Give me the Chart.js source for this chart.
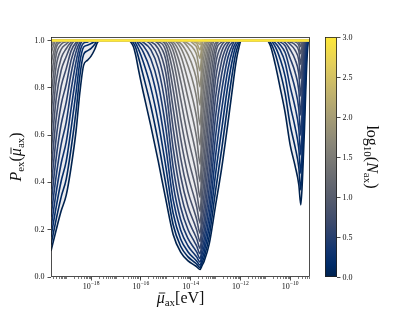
<!DOCTYPE html>
<html>
<head>
<meta charset="utf-8">
<script src="https://cdn.jsdelivr.net/npm/chart.js@4.4.1/dist/chart.umd.min.js"></script>
<style>
  html, body { margin: 0; padding: 0; background: #fff; }
  canvas { display: block; }
</style>
</head>
<body>
<canvas id="chart" width="415" height="311"></canvas>
<script>
// log10(mu / eV) sample points, three regions where the curves leave P = 1
const muLeft = [-19.61, -19.4, -19.2, -19.0, -18.8, -18.6, -18.45, -18.3, -18.15, -18.0, -17.85, -17.75, -17.65];
const muMid = [-16.5, -16.4, -16.3, -16.2, -16.1, -15.9, -15.6, -15.3, -15.0, -14.7, -14.4, -14.1, -13.85,
               -13.75, -13.62, -13.54, -13.45, -13.25, -13.0, -12.75, -12.5, -12.3, -12.2, -12.1, -11.95];
const muRight = [-10.95, -10.8, -10.6, -10.4, -10.2, -10.0, -9.8, -9.65, -9.57, -9.5, -9.42, -9.35, -9.3, -9.25, -9.2];
const muEdges = [-19.61, -9.2];

// log10(N_ax) of every curve
const logN = [0, 0.1, 0.2, 0.3, 0.4, 0.5, 0.6, 0.7, 0.8, 0.9, 1.0, 1.1, 1.2, 1.3, 1.4, 1.5,
              1.6, 1.7, 1.8, 1.9, 2.0, 2.1, 2.2, 2.3, 2.4, 2.5, 2.6, 2.7, 2.8, 2.9, 3.0];

// P_ex on muLeft, one row per curve
const pLeft = [
  [0.110, 0.200, 0.280, 0.345, 0.465, 0.620, 0.780, 0.895, 0.916, 0.934, 0.963, 0.990, 1],
  [0.136, 0.245, 0.339, 0.413, 0.545, 0.704, 0.851, 0.941, 0.956, 0.967, 0.984, 1, 1],
  [0.169, 0.298, 0.406, 0.489, 0.629, 0.784, 0.909, 0.972, 0.980, 0.987, 0.995, 1, 1],
  [0.207, 0.359, 0.481, 0.570, 0.713, 0.855, 0.951, 0.989, 0.993, 1, 1, 1, 1],
  [0.254, 0.429, 0.562, 0.654, 0.792, 0.912, 0.978, 1, 1, 1, 1, 1, 1],
  [0.308, 0.506, 0.646, 0.738, 0.862, 0.953, 0.992, 1, 1, 1, 1, 1, 1],
  [0.371, 0.589, 0.730, 0.814, 0.917, 0.979, 1, 1, 1, 1, 1, 1, 1],
  [0.442, 0.673, 0.807, 0.880, 0.956, 0.992, 1, 1, 1, 1, 1, 1, 1],
  [0.521, 0.755, 0.874, 0.931, 0.981, 1, 1, 1, 1, 1, 1, 1, 1],
  [0.604, 0.830, 0.926, 0.965, 0.993, 1, 1, 1, 1, 1, 1, 1, 1],
  [0.688, 0.893, 0.963, 0.985, 1, 1, 1, 1, 1, 1, 1, 1, 1],
  [0.769, 0.940, 0.984, 0.995, 1, 1, 1, 1, 1, 1, 1, 1, 1],
  [0.842, 0.971, 0.995, 1, 1, 1, 1, 1, 1, 1, 1, 1, 1],
  [0.902, 0.988, 1, 1, 1, 1, 1, 1, 1, 1, 1, 1, 1],
  [0.946, 1, 1, 1, 1, 1, 1, 1, 1, 1, 1, 1, 1],
  [0.975, 1, 1, 1, 1, 1, 1, 1, 1, 1, 1, 1, 1],
  [0.990, 1, 1, 1, 1, 1, 1, 1, 1, 1, 1, 1, 1],
  [1, 1, 1, 1, 1, 1, 1, 1, 1, 1, 1, 1, 1],
  [1, 1, 1, 1, 1, 1, 1, 1, 1, 1, 1, 1, 1],
  [1, 1, 1, 1, 1, 1, 1, 1, 1, 1, 1, 1, 1],
  [1, 1, 1, 1, 1, 1, 1, 1, 1, 1, 1, 1, 1],
  [1, 1, 1, 1, 1, 1, 1, 1, 1, 1, 1, 1, 1],
  [1, 1, 1, 1, 1, 1, 1, 1, 1, 1, 1, 1, 1]
];

// P_ex on muMid
const pMid = [
  [1, 0.993, 0.975, 0.935, 0.880, 0.780, 0.640, 0.490, 0.330, 0.180, 0.105, 0.068, 0.050, 0.043, 0.032, 0.048, 0.068, 0.140, 0.300, 0.460, 0.650, 0.810, 0.890, 0.950, 1],
  [1, 1, 0.990, 0.968, 0.931, 0.851, 0.724, 0.571, 0.396, 0.221, 0.130, 0.085, 0.063, 0.054, 0.040, 0.060, 0.085, 0.173, 0.362, 0.540, 0.733, 0.876, 0.938, 0.977, 1],
  [1, 1, 1, 0.987, 0.965, 0.909, 0.802, 0.656, 0.470, 0.269, 0.161, 0.106, 0.078, 0.067, 0.050, 0.075, 0.106, 0.213, 0.432, 0.623, 0.811, 0.928, 0.970, 0.991, 1],
  [1, 1, 1, 1, 0.985, 0.951, 0.870, 0.739, 0.550, 0.326, 0.199, 0.131, 0.097, 0.084, 0.063, 0.094, 0.131, 0.260, 0.509, 0.708, 0.877, 0.964, 0.988, 1, 1],
  [1, 1, 1, 1, 0.995, 0.978, 0.923, 0.816, 0.634, 0.392, 0.243, 0.162, 0.121, 0.105, 0.078, 0.116, 0.162, 0.315, 0.592, 0.787, 0.928, 0.985, 1, 1, 1],
  [1, 1, 1, 1, 1, 0.992, 0.961, 0.881, 0.718, 0.465, 0.296, 0.200, 0.150, 0.130, 0.098, 0.144, 0.200, 0.379, 0.676, 0.858, 0.964, 0.995, 1, 1, 1],
  [1, 1, 1, 1, 1, 1, 0.983, 0.931, 0.797, 0.545, 0.357, 0.244, 0.185, 0.161, 0.121, 0.178, 0.244, 0.451, 0.758, 0.914, 0.985, 1, 1, 1, 1],
  [1, 1, 1, 1, 1, 1, 0.994, 0.966, 0.865, 0.629, 0.427, 0.297, 0.227, 0.198, 0.150, 0.219, 0.297, 0.530, 0.833, 0.954, 0.995, 1, 1, 1, 1],
  [1, 1, 1, 1, 1, 1, 1, 0.986, 0.920, 0.713, 0.504, 0.359, 0.277, 0.242, 0.185, 0.267, 0.359, 0.614, 0.895, 0.980, 1, 1, 1, 1, 1],
  [1, 1, 1, 1, 1, 1, 1, 0.995, 0.958, 0.793, 0.586, 0.428, 0.335, 0.295, 0.228, 0.323, 0.428, 0.698, 0.941, 0.993, 1, 1, 1, 1, 1],
  [1, 1, 1, 1, 1, 1, 1, 1, 0.982, 0.862, 0.670, 0.505, 0.401, 0.356, 0.277, 0.389, 0.505, 0.779, 0.972, 1, 1, 1, 1, 1, 1],
  [1, 1, 1, 1, 1, 1, 1, 1, 0.994, 0.917, 0.753, 0.588, 0.476, 0.425, 0.336, 0.462, 0.588, 0.850, 0.989, 1, 1, 1, 1, 1, 1],
  [1, 1, 1, 1, 1, 1, 1, 1, 1, 0.957, 0.828, 0.672, 0.556, 0.502, 0.403, 0.541, 0.672, 0.908, 1, 1, 1, 1, 1, 1, 1],
  [1, 1, 1, 1, 1, 1, 1, 1, 1, 0.981, 0.891, 0.755, 0.641, 0.584, 0.477, 0.625, 0.755, 0.951, 1, 1, 1, 1, 1, 1, 1],
  [1, 1, 1, 1, 1, 1, 1, 1, 1, 0.993, 0.938, 0.829, 0.724, 0.669, 0.558, 0.709, 0.829, 0.977, 1, 1, 1, 1, 1, 1, 1],
  [1, 1, 1, 1, 1, 1, 1, 1, 1, 1, 0.970, 0.892, 0.803, 0.751, 0.642, 0.789, 0.892, 0.992, 1, 1, 1, 1, 1, 1, 1],
  [1, 1, 1, 1, 1, 1, 1, 1, 1, 1, 0.988, 0.939, 0.870, 0.827, 0.726, 0.859, 0.939, 1, 1, 1, 1, 1, 1, 1, 1],
  [1, 1, 1, 1, 1, 1, 1, 1, 1, 1, 1, 0.971, 0.924, 0.890, 0.804, 0.915, 0.971, 1, 1, 1, 1, 1, 1, 1, 1],
  [1, 1, 1, 1, 1, 1, 1, 1, 1, 1, 1, 0.988, 0.961, 0.938, 0.871, 0.955, 0.988, 1, 1, 1, 1, 1, 1, 1, 1],
  [1, 1, 1, 1, 1, 1, 1, 1, 1, 1, 1, 1, 0.983, 0.970, 0.924, 0.980, 1, 1, 1, 1, 1, 1, 1, 1, 1],
  [1, 1, 1, 1, 1, 1, 1, 1, 1, 1, 1, 1, 0.994, 0.988, 0.961, 0.993, 1, 1, 1, 1, 1, 1, 1, 1, 1],
  [1, 1, 1, 1, 1, 1, 1, 1, 1, 1, 1, 1, 1, 0.996, 0.983, 1, 1, 1, 1, 1, 1, 1, 1, 1, 1],
  [1, 1, 1, 1, 1, 1, 1, 1, 1, 1, 1, 1, 1, 1, 0.994, 1, 1, 1, 1, 1, 1, 1, 1, 1, 1]
];

// P_ex on muRight
const pRight = [
  [1, 0.980, 0.900, 0.800, 0.695, 0.560, 0.470, 0.390, 0.305, 0.420, 0.630, 0.850, 0.960, 1, 1],
  [1, 0.993, 0.945, 0.868, 0.776, 0.644, 0.550, 0.463, 0.368, 0.497, 0.714, 0.908, 0.983, 1, 1],
  [1, 1, 0.974, 0.922, 0.848, 0.728, 0.634, 0.543, 0.438, 0.578, 0.793, 0.951, 0.994, 1, 1],
  [1, 1, 0.990, 0.960, 0.906, 0.806, 0.718, 0.627, 0.516, 0.663, 0.862, 0.977, 1, 1, 1],
  [1, 1, 1, 0.982, 0.949, 0.873, 0.797, 0.711, 0.599, 0.746, 0.918, 0.991, 1, 1, 1],
  [1, 1, 1, 0.994, 0.977, 0.925, 0.866, 0.790, 0.684, 0.822, 0.957, 1, 1, 1, 1],
  [1, 1, 1, 1, 0.991, 0.962, 0.920, 0.860, 0.765, 0.886, 0.981, 1, 1, 1, 1],
  [1, 1, 1, 1, 1, 0.984, 0.959, 0.916, 0.839, 0.935, 0.993, 1, 1, 1, 1],
  [1, 1, 1, 1, 1, 0.994, 0.982, 0.956, 0.899, 0.968, 1, 1, 1, 1, 1],
  [1, 1, 1, 1, 1, 1, 0.994, 0.980, 0.944, 0.987, 1, 1, 1, 1, 1],
  [1, 1, 1, 1, 1, 1, 1, 0.993, 0.974, 1, 1, 1, 1, 1, 1],
  [1, 1, 1, 1, 1, 1, 1, 1, 0.990, 1, 1, 1, 1, 1, 1],
  [1, 1, 1, 1, 1, 1, 1, 1, 1, 1, 1, 1, 1, 1, 1],
  [1, 1, 1, 1, 1, 1, 1, 1, 1, 1, 1, 1, 1, 1, 1],
  [1, 1, 1, 1, 1, 1, 1, 1, 1, 1, 1, 1, 1, 1, 1],
  [1, 1, 1, 1, 1, 1, 1, 1, 1, 1, 1, 1, 1, 1, 1],
  [1, 1, 1, 1, 1, 1, 1, 1, 1, 1, 1, 1, 1, 1, 1],
  [1, 1, 1, 1, 1, 1, 1, 1, 1, 1, 1, 1, 1, 1, 1],
  [1, 1, 1, 1, 1, 1, 1, 1, 1, 1, 1, 1, 1, 1, 1],
  [1, 1, 1, 1, 1, 1, 1, 1, 1, 1, 1, 1, 1, 1, 1],
  [1, 1, 1, 1, 1, 1, 1, 1, 1, 1, 1, 1, 1, 1, 1],
  [1, 1, 1, 1, 1, 1, 1, 1, 1, 1, 1, 1, 1, 1, 1],
  [1, 1, 1, 1, 1, 1, 1, 1, 1, 1, 1, 1, 1, 1, 1]
];

// curves with larger N sit on P = 1 everywhere
const pFlat = [1, 1];

// tick labels
const xTickExp = [-18, -16, -14, -12, -10];
const yTicks = [0, 0.2, 0.4, 0.6, 0.8, 1.0];
const cbTicks = [0, 0.5, 1.0, 1.5, 2.0, 2.5, 3.0];

const FONT = "'Liberation Serif', 'DejaVu Serif', serif";

// cividis colormap (position, colour)
const cividisStops = [
    [0.000, '#00224e'], [0.050, '#002b68'], [0.111, '#123570'], [0.222, '#3b496c'],
    [0.333, '#575d6d'], [0.444, '#707173'], [0.556, '#8a8779'], [0.667, '#a69d75'],
    [0.778, '#c4b56c'], [0.889, '#e4cf5b'], [1.000, '#fee838']
];

function hexToRgb(h) {
    return [parseInt(h.slice(1, 3), 16), parseInt(h.slice(3, 5), 16), parseInt(h.slice(5, 7), 16)];
}

function cividis(t) {
    t = Math.min(Math.max(t, 0), 1);
    let i = 0;
    while (i < cividisStops.length - 2 && t > cividisStops[i + 1][0]) i++;
    const [t0, c0] = cividisStops[i];
    const [t1, c1] = cividisStops[i + 1];
    const f = (t - t0) / (t1 - t0);
    const a = hexToRgb(c0);
    const b = hexToRgb(c1);
    const c = a.map((v, j) => Math.round(v + (b[j] - v) * f));
    return `rgb(${c[0]}, ${c[1]}, ${c[2]})`;
}

// Build one dataset per curve
const datasets = logN.map((ln, k) => {
    let points;
    if (k < pMid.length) {
        const xs = muLeft.concat(muMid, muRight);
        const ys = pLeft[k].concat(pMid[k], pRight[k]);
        points = xs.map((x, i) => ({ x: x, y: ys[i] }));
    } else {
        points = muEdges.map((x, i) => ({ x: x, y: pFlat[i] }));
    }
    return {
        data: points,
        borderColor: cividis(ln / 3),
        borderWidth: 1.6,
        pointRadius: 0,
        cubicInterpolationMode: 'monotone',
        fill: k === 0 ? { value: 1 } : false,
        backgroundColor: k === 0 ? '#ececef' : 'transparent',
        order: 100 - k
    };
});

// Draw a label made of pieces (subscripts / italics / bar accent)
function drawRich(ctx, parts, x, y, angle) {
    ctx.save();
    ctx.translate(x, y);
    ctx.rotate(angle);
    ctx.textAlign = 'left';
    ctx.textBaseline = 'alphabetic';
    let total = 0;
    parts.forEach(p => {
        ctx.font = p.font;
        p.w = ctx.measureText(p.text).width;
        total += p.w;
    });
    let cx = -total / 2;
    parts.forEach(p => {
        ctx.font = p.font;
        ctx.fillText(p.text, cx, p.dy || 0);
        if (p.bar) {
            ctx.save();
            ctx.strokeStyle = ctx.fillStyle;
            ctx.lineWidth = 0.9;
            ctx.beginPath();
            ctx.moveTo(cx + 2.2, -10);
            ctx.lineTo(cx + p.w + 0.6, -10);
            ctx.stroke();
            ctx.restore();
        }
        cx += p.w;
    });
    ctx.restore();
}

function supText(n) {
    return String(n).replace('-', '\u2212');
}

const decorPlugin = {
    id: 'decor',
    afterDraw(chart) {
        const { ctx, chartArea: a, scales } = chart;
        ctx.save();
        ctx.strokeStyle = '#222';
        ctx.fillStyle = '#111';

        // minor ticks on the log axis
        ctx.lineWidth = 0.6;
        for (let e = -20; e <= -9; e++) {
            for (let m = 1; m <= 9; m++) {
                if (m === 1 && e % 2 === 0) continue;
                const v = e + Math.log10(m);
                if (v < scales.x.min || v > scales.x.max) continue;
                const px = Math.round(scales.x.getPixelForValue(v)) + 0.5;
                ctx.beginPath();
                ctx.moveTo(px, a.bottom);
                ctx.lineTo(px, a.bottom + 2);
                ctx.stroke();
            }
        }

        // frame
        ctx.lineWidth = 0.8;
        ctx.strokeRect(a.left + 0.5, a.top + 0.5, a.right - a.left - 1, a.bottom - a.top - 1);

        // x tick labels 10^n
        xTickExp.forEach(v => {
            const px = scales.x.getPixelForValue(v);
            drawRich(ctx, [
                { text: '10', font: `8px ${FONT}` },
                { text: supText(v), font: `5.6px ${FONT}`, dy: -3.5 }
            ], px, a.bottom + 11.5, 0);
        });

        // colorbar
        const cbL = a.right + 15, cbW = 12;
        const grad = ctx.createLinearGradient(0, a.bottom, 0, a.top);
        cividisStops.forEach(([t, c]) => grad.addColorStop(t, c));
        ctx.fillStyle = grad;
        ctx.fillRect(cbL, a.top, cbW, a.bottom - a.top);
        ctx.strokeRect(cbL + 0.5, a.top + 0.5, cbW - 1, a.bottom - a.top - 1);
        ctx.fillStyle = '#111';
        ctx.font = `8px ${FONT}`;
        ctx.textAlign = 'left';
        ctx.textBaseline = 'middle';
        cbTicks.forEach(v => {
            const py = Math.round(scales.cb.getPixelForValue(v)) + 0.5;
            ctx.beginPath();
            ctx.moveTo(cbL + cbW, py);
            ctx.lineTo(cbL + cbW + 3.5, py);
            ctx.stroke();
            ctx.fillText(v.toFixed(1), cbL + cbW + 5.5, py);
        });

        const cy = (a.top + a.bottom) / 2;
        const big = `16px ${FONT}`, bigIt = `italic 16px ${FONT}`, sub = `11px ${FONT}`;

        // y label P_ex(mu_ax)
        drawRich(ctx, [
            { text: 'P', font: bigIt },
            { text: 'ex', font: sub, dy: 3 },
            { text: '(', font: big },
            { text: '\u03bc', font: bigIt, bar: true },
            { text: 'ax', font: sub, dy: 3 },
            { text: ')', font: big }
        ], 21, cy, -Math.PI / 2);

        // x label mu_ax [eV]
        drawRich(ctx, [
            { text: '\u03bc', font: bigIt, bar: true },
            { text: 'ax', font: sub, dy: 3 },
            { text: '[eV]', font: big }
        ], (a.left + a.right) / 2, 303, 0);

        // colorbar label log10(N_ax)
        drawRich(ctx, [
            { text: 'log', font: big },
            { text: '10', font: sub, dy: 3 },
            { text: '(', font: big },
            { text: 'N', font: bigIt },
            { text: 'ax', font: sub, dy: 3 },
            { text: ')', font: big }
        ], 367, cy, Math.PI / 2);

        ctx.restore();
    }
};

new Chart(document.getElementById('chart'), {
    type: 'line',
    data: { datasets: datasets },
    options: {
        responsive: false,
        animation: false,
        devicePixelRatio: 1,
        events: [],
        layout: { padding: { left: 0, right: 105, top: 37, bottom: 0 } },
        plugins: { legend: { display: false }, tooltip: { enabled: false } },
        scales: {
            x: {
                type: 'linear',
                min: -19.61,
                max: -9.2,
                afterBuildTicks: s => { s.ticks = xTickExp.map(v => ({ value: v })); },
                afterFit: s => { s.height = 34; },
                ticks: { display: false },
                border: { display: false },
                grid: { drawOnChartArea: false, drawTicks: true, tickLength: 3.5, tickColor: '#222', tickWidth: 0.8 }
            },
            y: {
                type: 'linear',
                min: 0,
                max: 1.0148,
                afterBuildTicks: s => { s.ticks = yTicks.map(v => ({ value: v })); },
                afterFit: s => { s.width = 51; },
                ticks: {
                    callback: v => v.toFixed(1),
                    color: '#111',
                    font: { family: FONT, size: 8 },
                    padding: 3
                },
                border: { display: false },
                grid: { drawOnChartArea: false, drawTicks: true, tickLength: 3.5, tickColor: '#222', tickWidth: 0.8 }
            },
            cb: {
                type: 'linear',
                display: false,
                position: 'right',
                min: 0,
                max: 3
            }
        }
    },
    plugins: [decorPlugin]
});
</script>
</body>
</html>
